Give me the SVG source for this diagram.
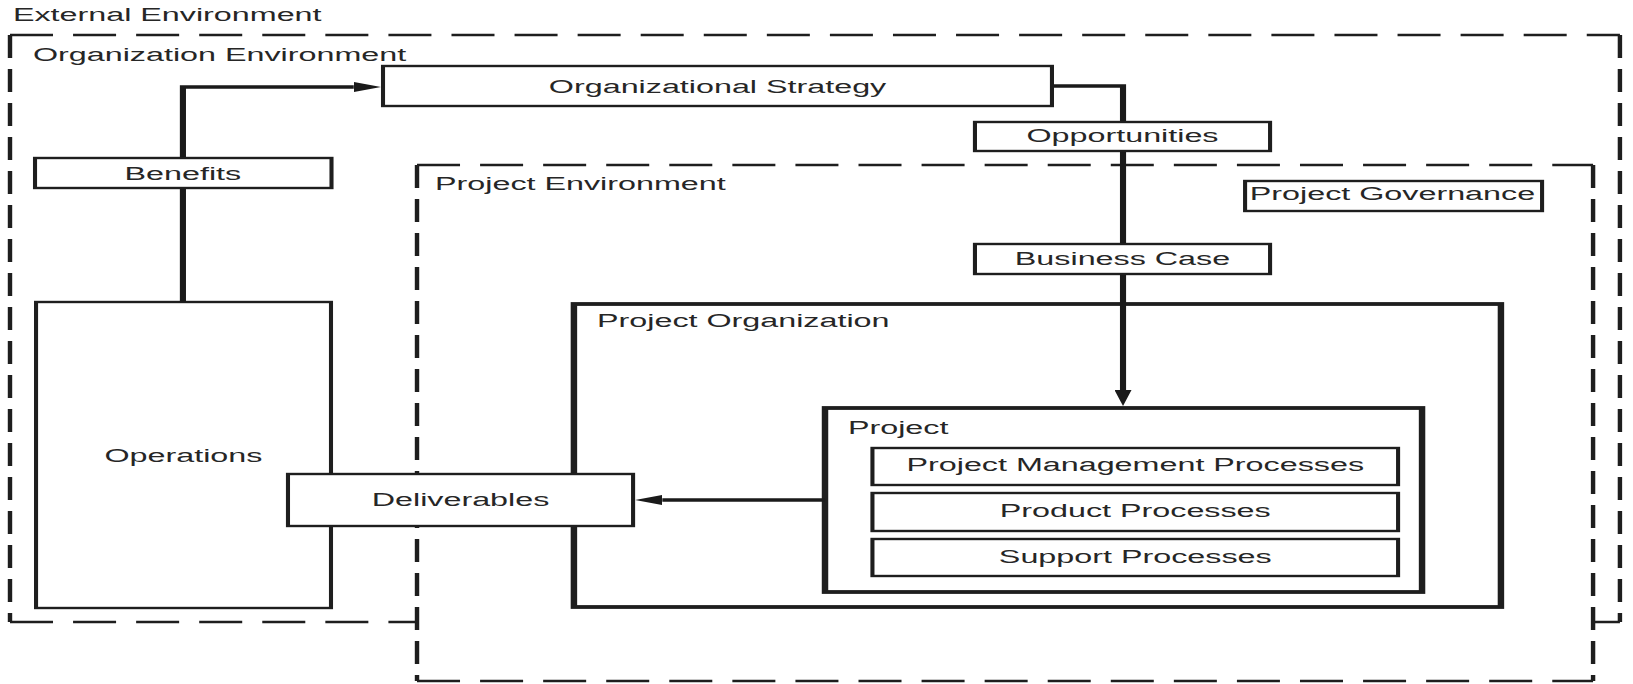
<svg xmlns="http://www.w3.org/2000/svg" width="1633" height="684" viewBox="0 0 1633 684">
<defs>
<style>
text{font-family:"Liberation Sans",Arial,Helvetica,sans-serif;font-size:19px;fill:#262626}
.box{fill:#fff;stroke:#1e1e1e;stroke-width:2.4}
.thick{fill:#fff;stroke:#1e1e1e;stroke-width:3.8}
.dh{fill:none;stroke:#1e1e1e;stroke-width:2.6;stroke-dasharray:25.3 11.8}
.dv{fill:none;stroke:#1e1e1e;stroke-width:2.6;stroke-dasharray:23 11}
.conn{fill:none;stroke:#1a1a1a;stroke-width:3.6}
.c{text-anchor:middle}
</style>
<marker id="ah" markerUnits="userSpaceOnUse" viewBox="0 0 16 10" markerWidth="16" markerHeight="10" refX="0" refY="5" orient="auto">
<path d="M0,0 L16,5 L0,10 z" fill="#1a1a1a"/>
</marker>
</defs>
<rect width="1633" height="684" fill="#fff"/>
<g transform="scale(1.7,1)">
  <text x="7.6" y="21">External Environment</text>
  <g id="organization-environment">
    <path class="dh" d="M5.88,35 H952.9"/>
    <path class="dv" d="M5.88,35 V622"/>
    <path class="dv" d="M952.9,35 V622"/>
    <path class="dh" d="M5.88,622 H952.9"/>
    <text x="19.4" y="61">Organization Environment</text>
  </g>
  <g id="project-environment">
    <rect x="245.3" y="165" width="691.8" height="516" fill="#fff"/>
    <path class="dh" d="M245.3,165 H937.1"/>
    <path class="dv" d="M245.3,165 V681"/>
    <path class="dv" d="M937.1,165 V681"/>
    <path class="dh" d="M245.3,681 H937.1"/>
    <text x="255.9" y="190">Project Environment</text>
  </g>
  <g id="project-governance">
    <rect class="box" x="732.4" y="181" width="174.7" height="30"/>
    <text class="c" x="819.1" y="200">Project Governance</text>
  </g>
  <g id="project-organization">
    <rect class="thick" x="337.6" y="304" width="545.3" height="303"/>
    <text x="351.2" y="327">Project Organization</text>
  </g>
  <g id="project">
    <rect class="thick" x="485.3" y="408" width="351.2" height="184"/>
    <text x="498.8" y="434">Project</text>
  </g>
  <g id="project-management-processes">
    <rect class="box" x="513.2" y="448" width="309.2" height="37"/>
    <text class="c" x="667.8" y="471">Project Management Processes</text>
  </g>
  <g id="product-processes">
    <rect class="box" x="513.2" y="493" width="309.2" height="38"/>
    <text class="c" x="667.8" y="517">Product Processes</text>
  </g>
  <g id="support-processes">
    <rect class="box" x="513.2" y="539" width="309.2" height="37"/>
    <text class="c" x="667.8" y="563">Support Processes</text>
  </g>
  <g id="operations">
    <rect class="box" x="21.2" y="302" width="173.5" height="306"/>
    <text class="c" x="107.9" y="462">Operations</text>
  </g>
  <g id="connectors">
    <path class="conn" d="M107.6,302 V87 H208.1" marker-end="url(#ah)"/>
    <path class="conn" d="M618.8,86 H660.6 V390" marker-end="url(#ah)"/>
    <path class="conn" d="M485.3,500 H389.6" marker-end="url(#ah)"/>
  </g>
  <g id="organizational-strategy">
    <rect class="box" x="225.3" y="66" width="393.5" height="40"/>
    <text class="c" x="422.1" y="93">Organizational Strategy</text>
  </g>
  <g id="benefits">
    <rect class="box" x="20.6" y="158" width="174.4" height="30"/>
    <text class="c" x="107.6" y="180">Benefits</text>
  </g>
  <g id="opportunities">
    <rect class="box" x="573.5" y="122" width="173.6" height="29"/>
    <text class="c" x="660.3" y="142">Opportunities</text>
  </g>
  <g id="business-case">
    <rect class="box" x="573.5" y="244" width="173.6" height="30"/>
    <text class="c" x="660.3" y="265">Business Case</text>
  </g>
  <g id="deliverables">
    <rect class="box" x="169.4" y="474" width="203" height="52"/>
    <text class="c" x="270.9" y="506">Deliverables</text>
  </g>
</g>
</svg>
